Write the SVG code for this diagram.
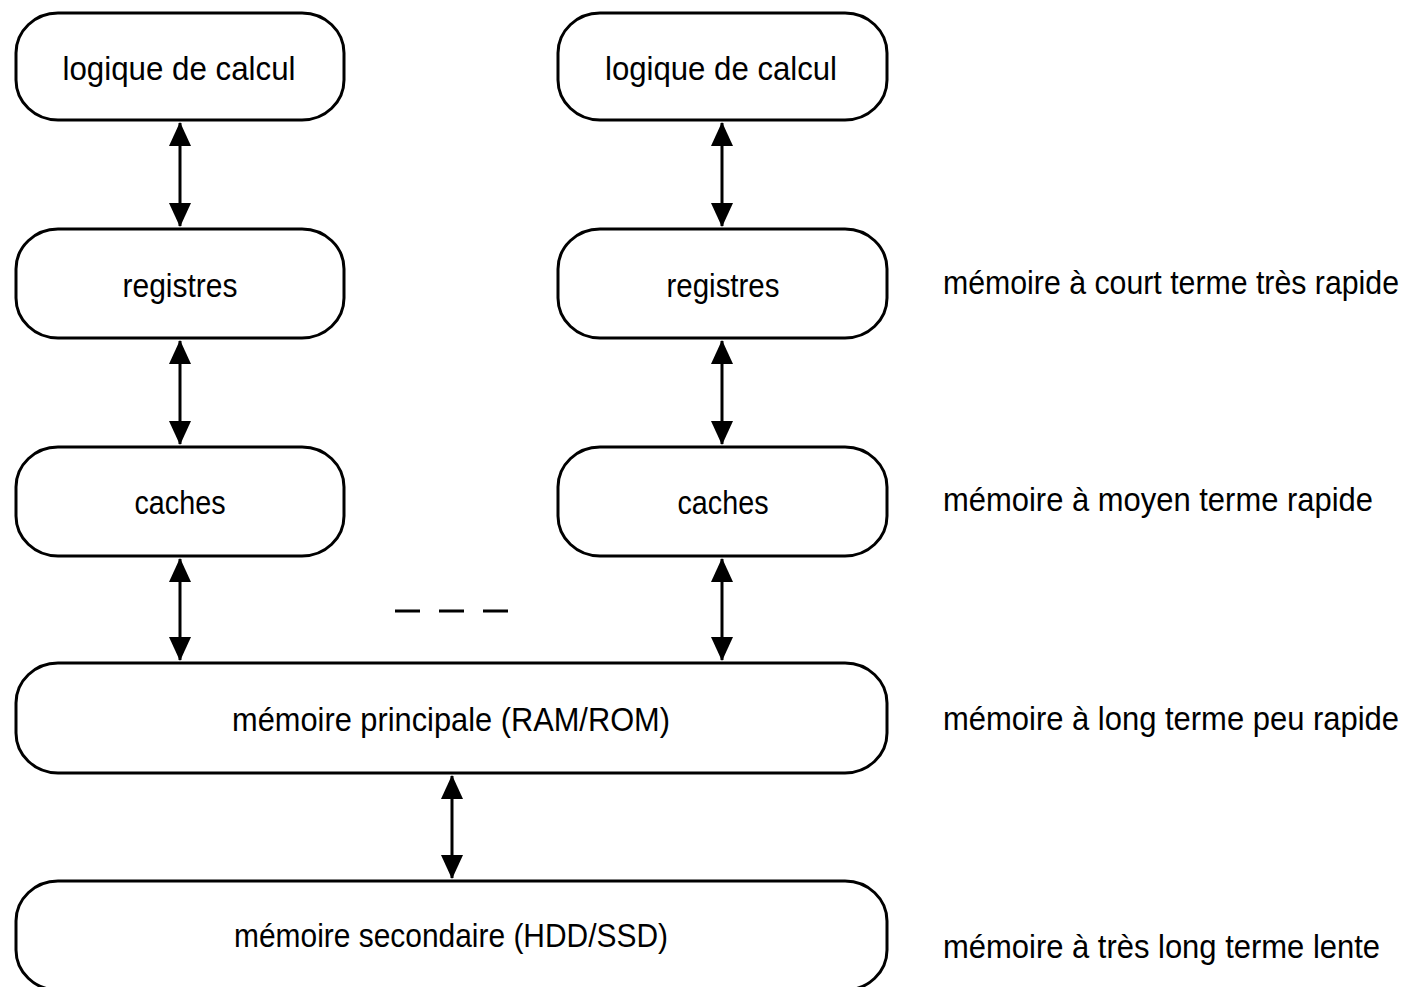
<svg xmlns="http://www.w3.org/2000/svg" width="1415" height="987" viewBox="0 0 1415 987">
<style>
.box{fill:#fff;stroke:#000;stroke-width:3}
.lbl{font-family:"Liberation Sans Narrow","Liberation Sans",Arial,sans-serif;font-size:34px;fill:#000;text-anchor:middle}
.side{font-family:"Liberation Sans",Arial,sans-serif;font-size:30px;fill:#000}
.conn{stroke:#000;stroke-width:3;fill:none;marker-start:url(#ah);marker-end:url(#ah)}
</style>
<defs>
<marker id="ah" markerUnits="userSpaceOnUse" markerWidth="24" markerHeight="22" viewBox="0 0 24 22" refX="23" refY="11" orient="auto-start-reverse">
<path d="M0,0 L24,11 L0,22 z" fill="#000"/>
</marker>
</defs>
<rect width="1415" height="987" fill="#fff"/>

<g id="logic-left"><rect class="box" x="16" y="13" width="328" height="107" rx="42" ry="40"/><text class="lbl" x="179" y="80" textLength="233" lengthAdjust="spacingAndGlyphs">logique de calcul</text></g>
<g id="logic-right"><rect class="box" x="558" y="13" width="329" height="107" rx="42" ry="40"/><text class="lbl" x="721" y="80" textLength="232" lengthAdjust="spacingAndGlyphs">logique de calcul</text></g>
<g id="reg-left"><rect class="box" x="16" y="229" width="328" height="109" rx="42" ry="40"/><text class="lbl" x="180" y="297" textLength="115" lengthAdjust="spacingAndGlyphs">registres</text></g>
<g id="reg-right"><rect class="box" x="558" y="229" width="329" height="109" rx="42" ry="40"/><text class="lbl" x="723" y="297" textLength="113" lengthAdjust="spacingAndGlyphs">registres</text></g>
<g id="cache-left"><rect class="box" x="16" y="447" width="328" height="109" rx="42" ry="40"/><text class="lbl" x="180" y="514" textLength="91" lengthAdjust="spacingAndGlyphs">caches</text></g>
<g id="cache-right"><rect class="box" x="558" y="447" width="329" height="109" rx="42" ry="40"/><text class="lbl" x="723" y="514" textLength="91" lengthAdjust="spacingAndGlyphs">caches</text></g>
<g id="ram"><rect class="box" x="16" y="663" width="871" height="110" rx="42" ry="40"/><text class="lbl" x="451" y="731" textLength="438" lengthAdjust="spacingAndGlyphs">mémoire principale (RAM/ROM)</text></g>
<g id="disk"><rect class="box" x="16" y="881" width="871" height="109" rx="42" ry="40"/><text class="lbl" x="451" y="947" textLength="434" lengthAdjust="spacingAndGlyphs">mémoire secondaire (HDD/SSD)</text></g>

<g id="side-labels">
<text class="side" transform="translate(943,294) scale(1,1.13)" x="0" y="0" textLength="456" lengthAdjust="spacingAndGlyphs">mémoire à court terme très rapide</text>
<text class="side" transform="translate(943,511) scale(1,1.13)" x="0" y="0" textLength="430" lengthAdjust="spacingAndGlyphs">mémoire à moyen terme rapide</text>
<text class="side" transform="translate(943,730) scale(1,1.13)" x="0" y="0" textLength="456" lengthAdjust="spacingAndGlyphs">mémoire à long terme peu rapide</text>
<text class="side" transform="translate(943,958) scale(1,1.13)" x="0" y="0" textLength="437" lengthAdjust="spacingAndGlyphs">mémoire à très long terme lente</text>
</g>

<g id="connectors">
<line class="conn" x1="180" y1="123" x2="180" y2="226"/>
<line class="conn" x1="722" y1="123" x2="722" y2="226"/>
<line class="conn" x1="180" y1="341" x2="180" y2="444"/>
<line class="conn" x1="722" y1="341" x2="722" y2="444"/>
<line class="conn" x1="180" y1="559" x2="180" y2="660"/>
<line class="conn" x1="722" y1="559" x2="722" y2="660"/>
<line class="conn" x1="452" y1="776" x2="452" y2="878"/>
<line x1="395" y1="611" x2="508" y2="611" stroke="#000" stroke-width="3" stroke-dasharray="25 19"/>
</g>
</svg>
